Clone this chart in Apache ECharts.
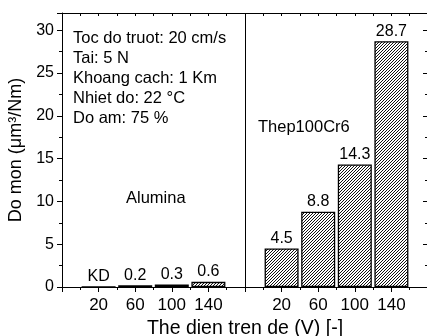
<!DOCTYPE html>
<html>
<head>
<meta charset="utf-8">
<script src="https://cdn.jsdelivr.net/npm/echarts@6/dist/echarts.min.js"></script>
<style>
  html, body { margin: 0; padding: 0; background: #fff; }
  #chart { width: 427px; height: 336px; }
</style>
</head>
<body>
<div id="chart"></div>
<script>
// dien ap (V) cho moi nhom
var voltages = ['20', '60', '100', '140'];
// do mon, don vi um^3/Nm
var alumina = [0, 0.2, 0.3, 0.6];
var thep = [4.5, 8.8, 14.3, 28.7];
var yTicks = [0, 5, 10, 15, 20, 25, 30];
var notes = ['Toc do truot: 20 cm/s', 'Tai: 5 N', 'Khoang cach: 1 Km', 'Nhiet do: 22 \u00b0C', 'Do am: 75 %'];

// vi tri tren truc x: nhom 1 o 1..4, vach chia o 5, nhom 2 o 6..9
var xLabels = [''].concat(voltages, [''], voltages, ['']);

// gach cheo "/" tung pixel, khong khu rang cua
function hatch() {
  var n = 3;
  var c = document.createElement('canvas');
  c.width = n; c.height = n;
  var g = c.getContext('2d');
  g.fillStyle = '#fff';
  g.fillRect(0, 0, n, n);
  g.fillStyle = '#111';
  for (var x = 0; x < n; x++) {
    for (var y = 0; y < n; y++) {
      if ((x + y) % n === 0) g.fillRect(x, y, 1, 1);
    }
  }
  return c;
}
var fillPat = { image: hatch(), repeat: 'repeat' };

var font = 'Liberation Sans, Arial, sans-serif';
var chart = echarts.init(document.getElementById('chart'), null, { renderer: 'canvas' });

var barStyle = { color: fillPat, borderColor: '#000', borderWidth: 1.3 };
var barLabel = {
  show: true, position: 'top', distance: 2, color: '#000',
  fontFamily: font, fontSize: 16,
  formatter: function (p) { return p.value[1] === 0 ? 'KD' : String(p.value[1]); }
};

var option = {
  animation: false,
  grid: { left: 62, top: 13, width: 366, height: 274, containLabel: false, outerBoundsMode: 'none' },
  xAxis: [{
    type: 'value', position: 'bottom', min: 0, max: 10, interval: 1,
    name: 'The dien tren de (V) [-]', nameLocation: 'middle', nameGap: 21,
    nameTextStyle: { fontFamily: font, fontSize: 19.5, color: '#000' },
    axisLine: { onZero: false, lineStyle: { color: '#000', width: 1 } },
    axisTick: { inside: false, length: 5, lineStyle: { color: '#000' } },
    minorTick: { show: true, splitNumber: 2, length: 3, lineStyle: { color: '#000' } },
    splitLine: { show: false },
    axisLabel: {
      margin: 10, color: '#000', fontFamily: font, fontSize: 17,
      formatter: function (v) { return xLabels[v] || ''; }
    }
  }, {
    type: 'value', position: 'top', min: 0, max: 10, interval: 1,
    axisLine: { show: true, onZero: false, lineStyle: { color: '#000', width: 1 } },
    axisTick: { inside: true, length: 3, lineStyle: { color: '#000' } },
    minorTick: { show: true, splitNumber: 2, length: 3, lineStyle: { color: '#000' } },
    splitLine: { show: false },
    axisLabel: { show: false }
  }],
  yAxis: [{
    type: 'value', position: 'left', min: 0, max: 32, interval: 5,
    name: 'Do mon (\u03bcm\u00b3/Nm)', nameLocation: 'middle', nameGap: 33, nameRotate: 90,
    nameTextStyle: { fontFamily: font, fontSize: 18, color: '#000' },
    axisLine: { show: true, onZero: false, lineStyle: { color: '#000', width: 1 } },
    axisTick: { inside: false, length: 5, lineStyle: { color: '#000' } },
    minorTick: { show: true, splitNumber: 2, length: 3, lineStyle: { color: '#000' } },
    splitLine: { show: false },
    axisLabel: {
      margin: 8, color: '#000', fontFamily: font, fontSize: 16, showMaxLabel: false,
      formatter: function (v) { return yTicks.indexOf(v) >= 0 ? String(v) : ''; }
    }
  }, {
    type: 'value', position: 'right', min: 0, max: 32, interval: 5,
    axisLine: { show: true, onZero: false, lineStyle: { color: '#000', width: 1 } },
    axisTick: { inside: true, length: 5, lineStyle: { color: '#000' } },
    minorTick: { show: true, splitNumber: 2, length: 3, lineStyle: { color: '#000' } },
    splitLine: { show: false },
    axisLabel: { show: false }
  }],
  graphic: notes.map(function (t, i) {
    return {
      type: 'text', left: 73, top: 30 + i * 20,
      style: { text: t, font: '16.5px ' + font, fill: '#000' }
    };
  }).concat([
    { type: 'text', left: 126, top: 190, style: { text: 'Alumina', font: '16.5px ' + font, fill: '#000' } },
    { type: 'text', left: 258, top: 119, style: { text: 'Thep100Cr6', font: '16.5px ' + font, fill: '#000' } }
  ]),
  series: [{
    type: 'bar', name: 'Alumina', barWidth: 34, barGap: '-100%',
    data: alumina.map(function (v, i) { return [i + 1, v]; }),
    itemStyle: barStyle, label: barLabel,
    markLine: {
      silent: true, symbol: 'none', label: { show: false },
      lineStyle: { color: '#000', width: 1, type: 'solid' },
      data: [{ xAxis: 5 }]
    }
  }, {
    type: 'bar', name: 'Thep100Cr6', barWidth: 34, barGap: '-100%',
    data: thep.map(function (v, i) { return [i + 6, v]; }),
    itemStyle: barStyle, label: barLabel
  }]
};
chart.setOption(option);
</script>
</body>
</html>
